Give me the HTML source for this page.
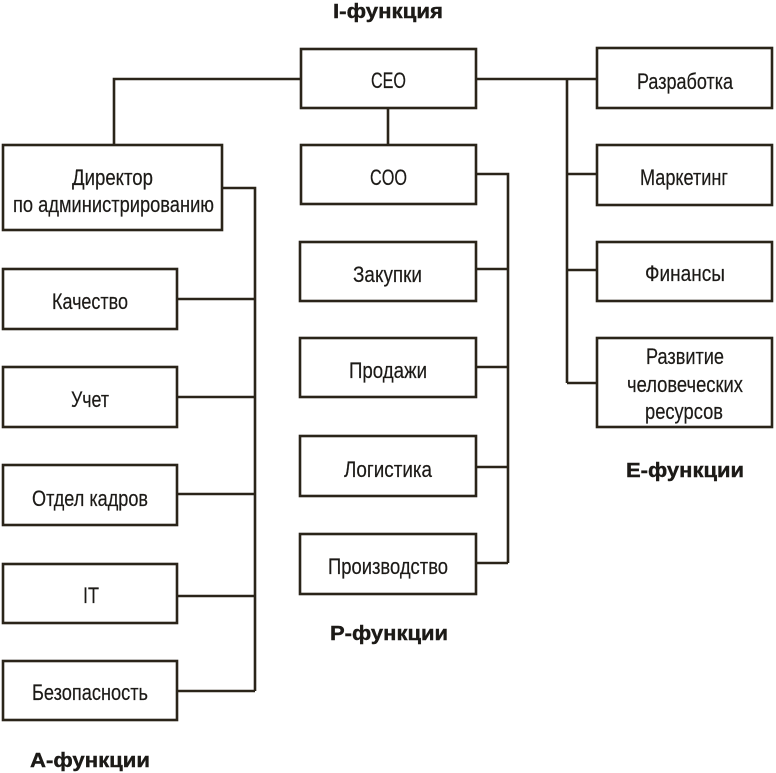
<!DOCTYPE html>
<html><head><meta charset="utf-8"><style>
html,body{margin:0;padding:0;background:#fff;}
svg{display:block;}
text{font-family:"Liberation Sans",sans-serif;fill:#1c1a17;}
.r{font-size:22.5px;stroke:#1c1a17;stroke-width:0.2px;}
.b{font-size:20px;font-weight:bold;stroke:#1c1a17;stroke-width:0.4px;}
</style></head><body>
<svg width="776" height="773" viewBox="0 0 776 773" xmlns="http://www.w3.org/2000/svg">
<g fill="none" stroke="#2a2419" stroke-width="2.6">
<!-- boxes -->
<rect x="301" y="49" width="175" height="59"/>
<rect x="3" y="145" width="219" height="85"/>
<rect x="301" y="145" width="175" height="59"/>
<rect x="3" y="269" width="174" height="60"/>
<rect x="3" y="367" width="174" height="60"/>
<rect x="3" y="465" width="174" height="60"/>
<rect x="3" y="564" width="174" height="59"/>
<rect x="3" y="661" width="174" height="59"/>
<rect x="300" y="242" width="176" height="59"/>
<rect x="300" y="338" width="176" height="59"/>
<rect x="300" y="436" width="176" height="60"/>
<rect x="300" y="534" width="176" height="60"/>
<rect x="597" y="48" width="175" height="60"/>
<rect x="597" y="145" width="175" height="60"/>
<rect x="597" y="242" width="175" height="59"/>
<rect x="597" y="338" width="175" height="89"/>
<!-- connectors -->
<polyline points="300,79 114,79 114,144"/>
<line x1="388" y1="109" x2="388" y2="144"/>
<line x1="477" y1="79" x2="596" y2="79"/>
<line x1="567" y1="79" x2="567" y2="383"/>
<line x1="567" y1="174" x2="596" y2="174"/>
<line x1="567" y1="270" x2="596" y2="270"/>
<line x1="567" y1="383" x2="596" y2="383"/>
<polyline points="223,188 255,188 255,691"/>
<line x1="178" y1="299" x2="255" y2="299"/>
<line x1="178" y1="397" x2="255" y2="397"/>
<line x1="178" y1="494" x2="255" y2="494"/>
<line x1="178" y1="596" x2="255" y2="596"/>
<line x1="178" y1="691" x2="255" y2="691"/>
<polyline points="477,174 508,174 508,563"/>
<line x1="477" y1="269" x2="508" y2="269"/>
<line x1="477" y1="367" x2="508" y2="367"/>
<line x1="477" y1="467" x2="508" y2="467"/>
<line x1="477" y1="563" x2="508" y2="563"/>
</g>
<!-- labels -->
<text class="b" x="333" y="18" textLength="110" lengthAdjust="spacingAndGlyphs">I-функция</text>
<text class="r" x="371" y="88" textLength="35" lengthAdjust="spacingAndGlyphs">CEO</text>
<text class="r" x="370" y="185" textLength="37" lengthAdjust="spacingAndGlyphs">COO</text>
<text class="r" x="72" y="185" textLength="81" lengthAdjust="spacingAndGlyphs">Директор</text>
<text class="r" x="13" y="212" textLength="201" lengthAdjust="spacingAndGlyphs">по администрированию</text>
<text class="r" x="52" y="309" textLength="76" lengthAdjust="spacingAndGlyphs">Качество</text>
<text class="r" x="71" y="407" textLength="38" lengthAdjust="spacingAndGlyphs">Учет</text>
<text class="r" x="32" y="506" textLength="116" lengthAdjust="spacingAndGlyphs">Отдел кадров</text>
<text class="r" x="83" y="603" textLength="16" lengthAdjust="spacingAndGlyphs">IT</text>
<text class="r" x="32" y="700" textLength="116" lengthAdjust="spacingAndGlyphs">Безопасность</text>
<text class="b" x="30" y="767" textLength="120" lengthAdjust="spacingAndGlyphs">А-функции</text>
<text class="r" x="353" y="282" textLength="69" lengthAdjust="spacingAndGlyphs">Закупки</text>
<text class="r" x="349" y="378" textLength="78" lengthAdjust="spacingAndGlyphs">Продажи</text>
<text class="r" x="344" y="477" textLength="88" lengthAdjust="spacingAndGlyphs">Логистика</text>
<text class="r" x="328" y="574" textLength="120" lengthAdjust="spacingAndGlyphs">Производство</text>
<text class="b" x="330" y="640" textLength="118" lengthAdjust="spacingAndGlyphs">Р-функции</text>
<text class="r" x="637" y="89" textLength="96" lengthAdjust="spacingAndGlyphs">Разработка</text>
<text class="r" x="640" y="185" textLength="88" lengthAdjust="spacingAndGlyphs">Маркетинг</text>
<text class="r" x="645" y="281" textLength="80" lengthAdjust="spacingAndGlyphs">Финансы</text>
<text class="r" x="646" y="364" textLength="78" lengthAdjust="spacingAndGlyphs">Развитие</text>
<text class="r" x="627" y="392" textLength="116" lengthAdjust="spacingAndGlyphs">человеческих</text>
<text class="r" x="645" y="419" textLength="78" lengthAdjust="spacingAndGlyphs">ресурсов</text>
<text class="b" x="626" y="477" textLength="118" lengthAdjust="spacingAndGlyphs">Е-функции</text>
</svg>
</body></html>
